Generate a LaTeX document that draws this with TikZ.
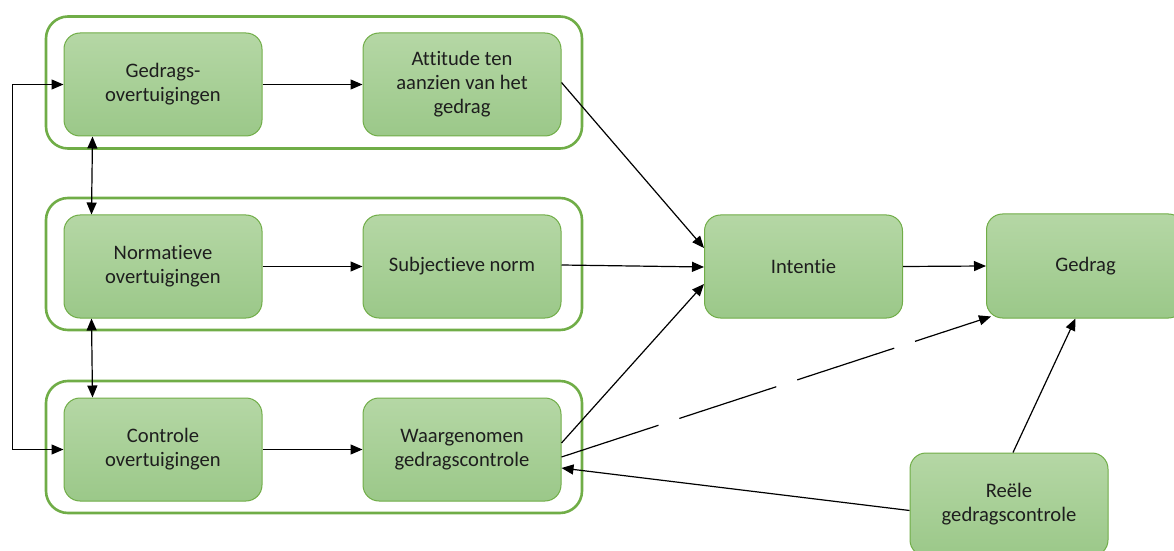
\documentclass[tikz,border=0pt]{standalone}
\usepackage{fontspec}
\setmainfont{Carlito}[Ligatures={NoCommon}]
\usetikzlibrary{arrows.meta,calc}
\definecolor{leaf}{HTML}{70AD47}
\definecolor{leaftop}{HTML}{B5D7A5}
\definecolor{leafbot}{HTML}{9BC889}
\definecolor{ink}{HTML}{1E1E1E}

\begin{document}
\begin{tikzpicture}[x=0.5pt,y=-0.5pt,
  group/.style={draw=leaf,line width=1.3pt,rounded corners=11pt,minimum width=268pt,minimum height=66pt},
  card/.style={draw=leaf,line width=0.5pt,rounded corners=8pt,top color=leaftop,bottom color=leafbot,
    minimum width=99pt,minimum height=51.5pt,align=center,text=ink,inner sep=2pt,
    font=\fontsize{10.3}{12}\selectfont},
  link/.style={-{Triangle[length=6pt,width=5pt]},line width=0.6pt},
  both/.style={{Triangle[length=6pt,width=5pt]}-{Triangle[length=6pt,width=5pt]},line width=0.6pt}]
\useasboundingbox (0,0) rectangle (1174,551);

% groups
\node[group] (grpgedr) at (314,82.5) {};
\node[group] (grpnorm) at (314,264) {};
\node[group] (grpctrl) at (314,447) {};

% cards
\node[card] (gedr) at (163,84.5) {Gedrags-\\overtuigingen};
\node[card] (att) at (462,84.5) {Attitude ten\\aanzien van het\\gedrag};
\node[card] (norm) at (163,266.5) {Normatieve\\overtuigingen};
\node[card] (subj) at (462,266.5) {Subjectieve norm};
\node[card] (ctrl) at (163,449.5) {Controle\\overtuigingen};
\node[card] (waarg) at (462,449.5) {Waargenomen\\gedragscontrole};
\node[card] (int) at (803.5,266.5) {Intentie};
\node[card,minimum height=52pt] (gedrag) at (1085.5,266) {Gedrag};
\node[card] (reele) at (1009,504.5) {Reële\\gedragscontrole};

% connectors
\draw[both] (ctrl.west) -- ++(-51,0) |- (gedr.west);
\draw[link] (gedr) -- (att);
\draw[link] (norm) -- (subj);
\draw[link] (ctrl) -- (waarg);
\draw[both] ($(gedr.south west)+(29,0)$) -- ($(norm.north west)+(28,0)$);
\draw[both] ($(norm.south west)+(28,0)$) -- ($(ctrl.north west)+(29,0)$);
\draw[link] ($(att.east)+(0,-2)$) -- ($(int.west)+(0,-18.5)$);
\draw[link] ($(subj.east)+(0,-1.5)$) -- ($(int.west)+(0,0.5)$);
\draw[link] ($(waarg.east)+(0,-6.5)$) -- ($(int.west)+(0,17.5)$);
\draw[link,dash pattern=on 51pt off 11pt] ($(waarg.east)+(0,7.5)$) -- ($(gedrag.south west)+(5,-2)$);
\draw[link] (int.east) -- (gedrag.west);
\draw[link] ($(reele.north)+(4,0)$) -- ($(gedrag.south)+(-10,0)$);
\draw[link] ($(reele.west)+(0,6)$) -- ($(waarg.east)+(0,18.5)$);
\end{tikzpicture}
\end{document}
